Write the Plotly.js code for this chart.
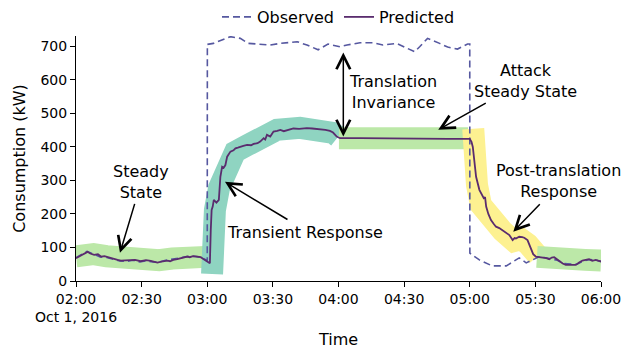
<!DOCTYPE html>
<html><head><meta charset="utf-8">
<script src="https://cdn.plot.ly/plotly-3.0.1.min.js"></script>
<style>html,body{margin:0;padding:0;background:#fff;}#chart{width:622px;height:349px;}</style>
</head><body><div id="chart"></div>
<script>
// minutes after 2016-10-01 02:00
const predMinutes = [0,2,4,5.3,6.5,8.3,10,11.4,13,14.4,16,17.4,19,20.5,23,25,27,29.6,32,34.2,36,37.2,39,41.8,43,44.5,46.3,48,50.9,52,53.5,55.4,57,58.4,60,61.2,61.6,62,62.5,63,64.2,65.3,66,66.8,67.5,68.3,69.1,70.6,72,72.9,74,75.1,76.5,78.2,80,81.2,83,84.2,85.8,86.5,87.3,88.8,90.3,92,93.4,95,96.4,98,99.4,102,105.5,108,111.6,114,116.1,117.5,119.2,120.7,130,140,150,160,170,180,180.8,181.4,182.1,182.9,184.4,185.2,185.9,186.4,187,187.5,188.5,189.7,191,192,193.5,195,196.5,198.1,199.6,200.5,201.1,202.6,204,204.9,206.4,207.2,208,209,210.2,211.5,213.3,215,216.3,217.5,218.6,220,220.9,222.5,223.9,226,228.5,230,231.5,233,234.5,236,237.6,239,240];
const predValues = [68,75,82,87,82,78,80,73,74,71,68,65,63,61,62,61,63,59,62,60,57,55,58,61,59,63,65,68,73,71,74,73,71,65,58,53,150,212,222,242,234,242,311,341,338,346,371,386,390,396,398,401,403,406,405,409,411,416,426,422,436,431,446,448,451,447,449,452,455,454,456,455,453,451,448,443,431,426,426,425,425,425,424,424,415,400,361,311,272,262,252,247,250,222,200,182,170,162,158,152,145,137,122,128,127,132,131,129,122,108,93,80,73,72,71,68,65,70,71,64,58,52,48,48,48,55,61,63,65,60,63,60,58];

const obsMinutes = [0,2.5,5,8,11,14,17,20,23,26,29,32,35,38,41,44,47,50,53,56,59,60,60.05,62.8,70.6,75.1,78.8,85.2,88.8,93.4,101.1,105.6,110.7,115.2,120.7,123.9,129.8,135.7,140.3,146.6,151.2,154.8,157.1,160.7,166.2,169.9,174.4,179,180,180.05,184.4,190.3,196.7,202.6,205.8,211.7,214,217,220,223,226,229,232,235,238,240];
const obsValues = [70,78,88,80,72,70,64,60,58,62,57,60,57,56,62,64,68,72,74,72,66,62,706,709,729,724,709,707,704,709,714,704,690,707,699,704,711,711,704,709,694,684,699,724,709,698,692,707,707,83,63,45,45,69,54,72,70,66,62,52,50,50,60,64,62,58];

// highlighted bands (centre paths)
const steadyBandMinutes = [0,3,5,8,14,22,30,38,44,50,59.3];
const steadyBandValues  = [74,80,84,80,74,66,60,62,67,73,72];
const transientBandMinutes = [62.2,62.4,63.5,65.4,68.6,72.7,78.6,85,91.9,102.4,111.5,117.5,119.8];
const transientBandValues  = [21,122,212,278,346,385,406,427,451,457,454,442,430];
const attackBandMinutes = [120.2,179.2];
const attackBandValues  = [426,426];
const postBandMinutes = [181.6,181.8,183.3,185.1,189.1,195,200.2,203.4,206.6,209.4,211.2];
const postBandValues  = [454,361,287,227,185,149,119,125,110,87,75];
const finalBandMinutes = [210.7,218,224.5,232.7,240];
const finalBandValues  = [72,66,54,63,61];

const seriesNames = ['Observed','Predicted'];
const labels = {
  steady: 'Steady<br>State',
  transient: 'Transient Response',
  invariance: 'Translation<br>Invariance',
  attack: 'Attack<br>Steady State',
  post: 'Post-translation<br>Response',
  xTitle: 'Time',
  yTitle: 'Consumption (kW)'
};

function toTime(m){
  const d = new Date(Date.UTC(2016,9,1,2,0,0) + Math.round(m*60000));
  return d.toISOString().replace('T',' ').slice(0,19);
}
const T = arr => arr.map(toTime);

const BW = 22;
function band(mins, vals, color){
  return {x:T(mins), y:vals, type:'scatter', mode:'lines', showlegend:false, hoverinfo:'skip',
          line:{color:color, width:BW}};
}
const green = '#bce8a8', teal = '#8fd4c1', yellow = '#fdf191';

const data = [
  band(steadyBandMinutes, steadyBandValues, green),
  band(transientBandMinutes, transientBandValues, teal),
  band(attackBandMinutes, attackBandValues, green),
  band(postBandMinutes, postBandValues, yellow),
  band(finalBandMinutes, finalBandValues, green),
  {x:T(obsMinutes), y:obsValues, name:seriesNames[0], type:'scatter', mode:'lines',
   line:{color:'#5658a0', width:1.6, dash:'7px,4px'}},
  {x:T(predMinutes), y:predValues, name:seriesNames[1], type:'scatter', mode:'lines',
   line:{color:'#5a2c6e', width:1.8}}
];

const FONT = 'DejaVu Sans, Verdana, sans-serif';
function arrow(m, v, ax, ay, both){
  const a = {x:toTime(m), y:v, ax:ax, ay:ay, text:' ', font:{size:1}, borderpad:0,
    showarrow:true, arrowhead:5, arrowsize:1.8, arrowwidth:1.5, arrowcolor:'#000', standoff:0, startstandoff:0};
  if(both){ a.arrowside='end+start'; a.startarrowhead=5; a.startarrowsize=1.8; }
  return a;
}
function label(m, v, txt){
  return {x:toTime(m), y:v, text:txt, showarrow:false, font:{size:16, color:'#000', family:FONT}};
}

const layout = {
  width:622, height:349,
  margin:{l:76, r:21, t:36, b:68},
  paper_bgcolor:'#fff', plot_bgcolor:'#fff',
  font:{family:FONT, size:14, color:'#000'},
  showlegend:true,
  legend:{orientation:'h', xref:'paper', x:0.5, xanchor:'center', yref:'container', y:1.0, yanchor:'top', font:{size:16}},
  xaxis:{type:'date', range:[toTime(0), toTime(240)], dtick:30*60*1000, tick0:toTime(0),
         showgrid:false, zeroline:false, showline:true, linecolor:'#000', ticks:'outside', ticklen:5, tickcolor:'#000',
         title:{text:labels.xTitle, font:{size:16}, standoff:24}},
  yaxis:{range:[0,731], dtick:100, showgrid:false, zeroline:false, showline:true, linecolor:'#000',
         ticks:'outside', ticklen:5, tickcolor:'#000', title:{text:labels.yTitle, font:{size:16}, standoff:10}},
  annotations:[
    arrow(20.1, 84, 15, -50),
    label(29.7, 296, labels.steady),
    arrow(68.1, 296, 63, 38),
    label(104.7, 146, labels.transient),
    arrow(122.2, 431, 0, -85, true),
    label(144.9, 564, labels.invariance),
    arrow(165.6, 451, 48, -27),
    label(205.5, 597, labels.attack),
    arrow(199.9, 147, 27, -28),
    label(220.5, 297, labels.post)
  ]
};
Plotly.newPlot('chart', data, layout, {staticPlot:true, displayModeBar:false});
</script></body></html>
